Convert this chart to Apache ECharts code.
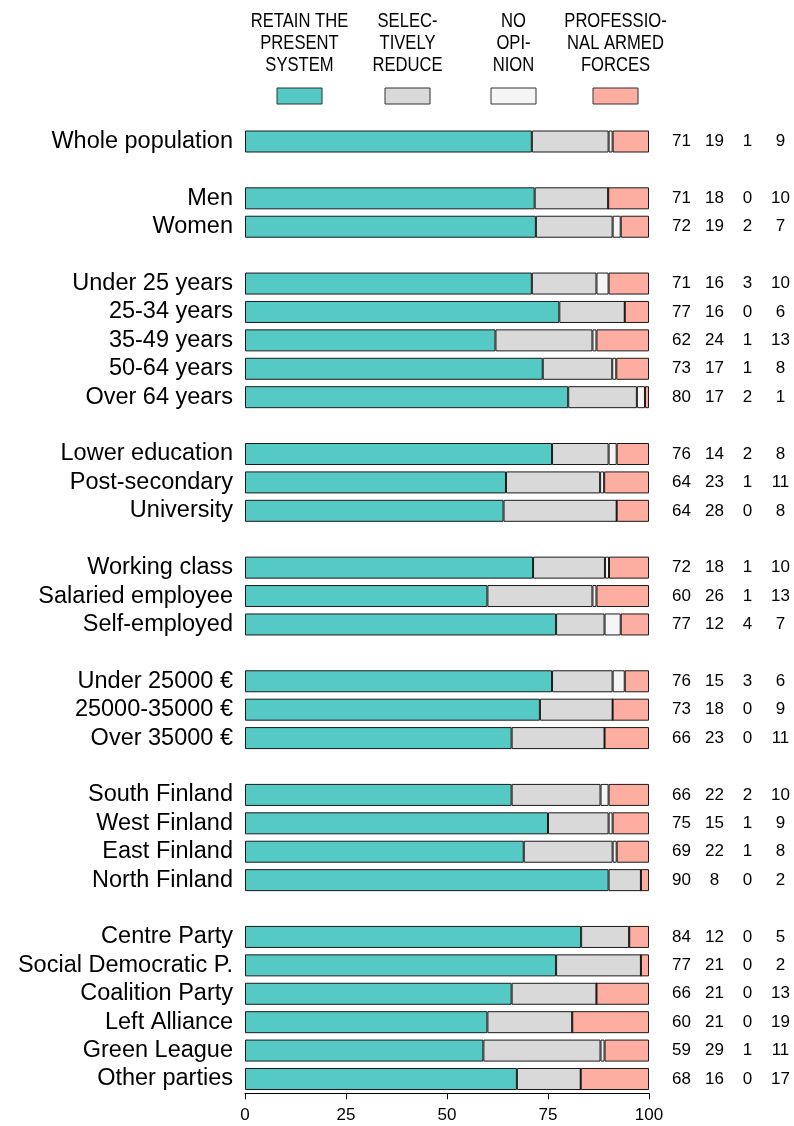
<!DOCTYPE html>
<html>
<head>
<meta charset="utf-8">
<script src="https://cdn.jsdelivr.net/npm/echarts@6/dist/echarts.min.js"></script>
<style>
html,body{margin:0;padding:0;background:#fff;}
#chart{width:794px;height:1126px;}
</style>
</head>
<body>
<div id="chart"></div>
<script>
// Category groups (a spacer row is inserted between groups)
const groups = [
  ['Whole population'],
  ['Men', 'Women'],
  ['Under 25 years', '25-34 years', '35-49 years', '50-64 years', 'Over 64 years'],
  ['Lower education', 'Post-secondary', 'University'],
  ['Working class', 'Salaried employee', 'Self-employed'],
  ['Under 25000 €', '25000-35000 €', 'Over 35000 €'],
  ['South Finland', 'West Finland', 'East Finland', 'North Finland'],
  ['Centre Party', 'Social Democratic P.', 'Coalition Party', 'Left Alliance', 'Green League', 'Other parties']
];

// Printed percentages (right-hand columns)
const retainPct = [71, 71, 72, 71, 77, 62, 73, 80, 76, 64, 64, 72, 60, 77, 76, 73, 66, 66, 75, 69, 90, 84, 77, 66, 60, 59, 68];
const reducePct = [19, 18, 19, 16, 16, 24, 17, 17, 14, 23, 28, 18, 26, 12, 15, 18, 23, 22, 15, 22, 8, 12, 21, 21, 21, 29, 16];
const noOpinionPct = [1, 0, 2, 3, 0, 1, 1, 2, 2, 1, 0, 1, 1, 4, 3, 0, 0, 2, 1, 1, 0, 0, 0, 0, 0, 1, 0];
const professionalPct = [9, 10, 7, 10, 6, 13, 8, 1, 8, 11, 8, 10, 13, 7, 6, 9, 11, 10, 9, 8, 2, 5, 2, 13, 19, 11, 17];

// Bar segment lengths
const retainBar = [71, 71.7, 72, 71, 77.8, 62, 73.7, 80, 76, 64.6, 64, 71.3, 60, 77, 76, 73, 66, 66, 75, 69, 90, 83.2, 77, 66, 60, 59, 67.3];
const reduceBar = [19, 18.2, 19, 16, 16.2, 24, 17.2, 17, 14, 23.3, 28, 17.8, 26, 12, 15, 18, 23, 22, 15, 22, 8, 11.9, 21, 21, 21, 29, 15.8];
const noOpinionBar = [1, 0, 2, 3, 0, 1, 1, 2, 2, 1, 0, 1, 1, 4, 3, 0, 0, 2, 1, 1, 0, 0, 0, 0, 0, 1, 0];
const professionalBar = [9, 10.1, 7, 10, 6, 13, 8.1, 1, 8, 11.1, 8, 9.9, 13, 7, 6, 9, 11, 10, 9, 8, 2, 4.9, 2, 13, 19, 11, 16.9];

const seriesNames = ['Retain the present system', 'Selectively reduce', 'No opinion', 'Professional armed forces'];
const legendLabels = ['RETAIN THE\nPRESENT\nSYSTEM', 'SELEC-\nTIVELY\nREDUCE', 'NO\nOPI-\nNION', 'PROFESSIO-\nNAL ARMED\nFORCES'];
const colors = ['#55c9c4', '#d9d9d9', '#f5f5f5', '#fdaea0'];
const xTicks = [0, 25, 50, 75, 100];

// Build axis with spacer rows
const axisCats = [];
const axisRow = [];
let r = 0;
groups.forEach((g, gi) => {
  if (gi > 0) { axisCats.push('__gap' + gi); axisRow.push(-1); }
  g.forEach(name => { axisCats.push(name); axisRow.push(r); r++; });
});
function spread(arr) { return axisRow.map(i => i < 0 ? '-' : arr[i]); }
const bars = [retainBar, reduceBar, noOpinionBar, professionalBar];

const FONT = '"Liberation Sans", Arial, Helvetica, sans-serif';

const chart = echarts.init(document.getElementById('chart'), null, {renderer: 'canvas'});

const legendX = [277, 385, 491, 593];
const graphic = [];
legendLabels.forEach((t, i) => {
  graphic.push({
    type: 'text', x: legendX[i] + 22.5, y: 10, scaleX: 0.83, scaleY: 1,
    style: {text: t, align: 'center', verticalAlign: 'top', fontSize: 20, lineHeight: 22, fontFamily: FONT, fill: '#000'}
  });
  graphic.push({
    type: 'rect', shape: {x: legendX[i], y: 88, width: 45, height: 16},
    style: {fill: colors[i], stroke: '#333', lineWidth: 1}
  });
});

chart.setOption({
  animation: false,
  backgroundColor: '#fff',
  graphic: graphic,
  grid: {left: 245, right: 145, top: 127.3, bottom: 32.8, containLabel: false},
  xAxis: {
    type: 'value', min: 0, max: 100, interval: 25,
    axisLine: {show: true, lineStyle: {color: '#000', width: 1}},
    axisTick: {show: true, length: 6, lineStyle: {color: '#000'}},
    splitLine: {show: false},
    axisLabel: {fontSize: 17, color: '#000', fontFamily: FONT, margin: 14,
      formatter: v => xTicks.indexOf(v) >= 0 ? String(v) : ''}
  },
  yAxis: [
    {
      type: 'category', inverse: true, data: axisCats,
      axisLine: {show: false}, axisTick: {show: false},
      axisLabel: {fontSize: 23.5, color: '#000', fontFamily: FONT, margin: 12, interval: 0,
        formatter: v => v.indexOf('__gap') === 0 ? '' : v}
    },
    {
      type: 'category', inverse: true, data: axisCats, position: 'right',
      axisLine: {show: false}, axisTick: {show: false},
      axisLabel: {
        margin: 16, align: 'left', interval: 0,
        formatter: (v, idx) => {
          const i = axisRow[idx];
          if (i === undefined || i < 0) return '';
          return '{c|' + retainPct[i] + '}{c|' + reducePct[i] + '}{c|' + noOpinionPct[i] + '}{c|' + professionalPct[i] + '}';
        },
        rich: {c: {width: 33, align: 'center', fontSize: 17, color: '#000', fontFamily: FONT}}
      }
    }
  ],
  series: bars.map((arr, k) => ({
    name: seriesNames[k], type: 'bar', stack: 'all', yAxisIndex: 0,
    barWidth: 22, silent: true,
    itemStyle: {color: colors[k], borderColor: '#1a1a1a', borderWidth: 1},
    data: spread(arr)
  }))
});
</script>
</body>
</html>
